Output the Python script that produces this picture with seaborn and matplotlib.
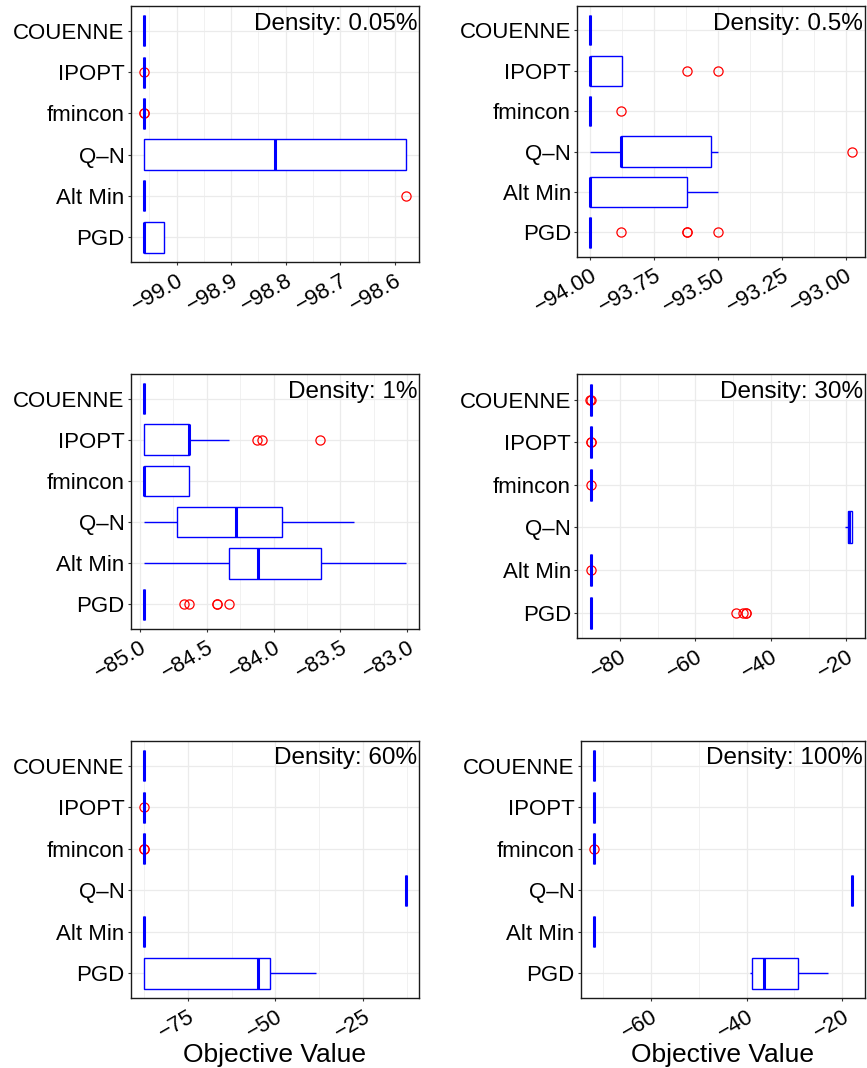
import matplotlib
matplotlib.use("Agg")
import matplotlib.pyplot as plt
from matplotlib.ticker import MultipleLocator
import pandas as pd
import seaborn as sns

# Solver order, top to bottom
methods = ["COUENNE", "IPOPT", "fmincon", "Q–N", "Alt Min", "PGD"]

# Objective values of the individual runs, one dict per matrix density
obj_d005 = {
    "COUENNE": [-99.06, -99.06, -99.06, -99.06, -99.06, -99.06, -99.06, -99.06, -99.06],
    "IPOPT":   [-99.06, -99.06, -99.06, -99.06, -99.06, -99.06, -99.06, -99.06, -99.0595],
    "fmincon": [-99.06, -99.06, -99.06, -99.06, -99.06, -99.06, -99.06, -99.0597, -99.0594],
    "Q–N":     [-99.06, -99.06, -99.06, -98.95, -98.82, -98.70, -98.58, -98.58, -98.58],
    "Alt Min": [-99.06, -99.06, -99.06, -99.06, -99.06, -99.06, -99.06, -99.06, -98.58],
    "PGD":     [-99.06, -99.06, -99.06, -99.06, -99.06, -99.04, -99.023, -99.023, -99.023],
}
obj_d05 = {
    "COUENNE": [-94.0, -94.0, -94.0, -94.0, -94.0, -94.0, -94.0, -94.0, -94.0],
    "IPOPT":   [-94.0, -94.0, -94.0, -94.0, -94.0, -93.95, -93.878, -93.622, -93.5],
    "fmincon": [-94.0, -94.0, -94.0, -94.0, -94.0, -94.0, -94.0, -94.0, -93.88],
    "Q–N":     [-94.0, -93.88, -93.88, -93.88, -93.88, -93.70, -93.528, -93.5, -92.975],
    "Alt Min": [-94.0, -94.0, -94.0, -94.0, -94.0, -93.80, -93.622, -93.55, -93.5],
    "PGD":     [-94.0, -94.0, -94.0, -94.0, -94.0, -94.0, -94.0, -94.0, -94.0,
                -94.0, -94.0, -94.0, -94.0, -93.88, -93.622, -93.622, -93.5],
}
obj_d1 = {
    "COUENNE": [-84.97, -84.97, -84.97, -84.97, -84.97, -84.97, -84.97, -84.97, -84.97],
    "IPOPT":   [-84.97, -84.97, -84.97, -84.97, -84.97, -84.85, -84.75, -84.68,
                -84.635, -84.635, -84.635, -84.635, -84.635, -84.33, -84.12, -84.085, -83.65],
    "fmincon": [-84.97, -84.97, -84.97, -84.97, -84.97, -84.80, -84.635, -84.635, -84.635],
    "Q–N":     [-84.97, -84.85, -84.72, -84.50, -84.278, -84.10, -83.94, -83.70, -83.40],
    "Alt Min": [-84.97, -84.60, -84.33, -84.20, -84.115, -83.90, -83.648, -83.30, -83.01],
    "PGD":     [-84.97, -84.97, -84.97, -84.97, -84.97, -84.97, -84.97, -84.97,
                -84.97, -84.97, -84.97, -84.97, -84.97, -84.97, -84.97, -84.97,
                -84.67, -84.63, -84.425, -84.425, -84.33],
}
obj_d30 = {
    "COUENNE": [-87.8, -87.8, -87.8, -87.8, -87.8, -87.8, -87.8, -87.85, -87.75],
    "IPOPT":   [-87.8, -87.8, -87.8, -87.8, -87.8, -87.8, -87.8, -87.75, -87.72],
    "fmincon": [-87.8, -87.8, -87.8, -87.8, -87.8, -87.8, -87.8, -87.8, -87.75],
    "Q–N":     [-20.4, -19.8, -19.5, -19.45, -19.4, -19.0, -18.5, -18.5, -18.5],
    "Alt Min": [-87.8, -87.8, -87.8, -87.8, -87.8, -87.8, -87.8, -87.8, -87.75],
    "PGD":     [-87.8, -87.8, -87.8, -87.8, -87.8, -87.8, -87.8, -87.8, -87.8,
                -87.8, -87.8, -87.8, -87.8, -49.2, -47.3, -46.7, -46.5],
}
obj_d60 = {
    "COUENNE": [-87.5, -87.5, -87.5, -87.5, -87.5, -87.5, -87.5, -87.5, -87.5],
    "IPOPT":   [-87.5, -87.5, -87.5, -87.5, -87.5, -87.5, -87.5, -87.5, -87.45],
    "fmincon": [-87.5, -87.5, -87.5, -87.5, -87.5, -87.5, -87.5, -87.45, -87.42],
    "Q–N":     [-12.85, -12.85, -12.85, -12.85, -12.85, -12.85, -12.85, -12.85, -12.85],
    "Alt Min": [-87.5, -87.5, -87.5, -87.5, -87.5, -87.5, -87.5, -87.5, -87.5],
    "PGD":     [-87.5, -87.5, -87.5, -70.0, -54.9, -53.0, -51.6, -45.0, -38.5],
}
obj_d100 = {
    "COUENNE": [-72.0, -72.0, -72.0, -72.0, -72.0, -72.0, -72.0, -72.0, -72.0],
    "IPOPT":   [-72.0, -72.0, -72.0, -72.0, -72.0, -72.0, -72.0, -72.0, -72.0],
    "fmincon": [-72.0, -72.0, -72.0, -72.0, -72.0, -72.0, -72.0, -72.0, -71.95],
    "Q–N":     [-17.95, -17.95, -17.95, -17.95, -17.95, -17.95, -17.95, -17.95, -17.95],
    "Alt Min": [-72.0, -72.0, -72.0, -72.0, -72.0, -72.0, -72.0, -72.0, -72.0],
    "PGD":     [-39.3, -39.1, -38.9, -37.5, -36.4, -33.0, -29.2, -26.0, -23.0],
}

panel_titles = ["Density: 0.05%", "Density: 0.5%", "Density: 1%",
                "Density: 30%", "Density: 60%", "Density: 100%"]
panel_ticks = [
    [-99.0, -98.9, -98.8, -98.7, -98.6],
    [-94.00, -93.75, -93.50, -93.25, -93.00],
    [-85.0, -84.5, -84.0, -83.5, -83.0],
    [-80, -60, -40, -20],
    [-75, -50, -25],
    [-60, -40, -20],
]
tick_decimals = [1, 2, 1, 0, 0, 0]
x_title = "Objective Value"

# Panel frames in pixels (left, top, right, bottom)
W, H = 867, 1068
frames = [
    (130.7, 6.0, 419.0, 262.0),
    (577.3, 6.0, 865.0, 256.7),
    (130.7, 374.0, 419.0, 629.0),
    (577.3, 374.0, 865.0, 638.3),
    (130.7, 740.7, 419.0, 998.3),
    (580.7, 740.7, 865.0, 998.3),
]

sns.set_theme(style="white")
plt.rcParams["font.family"] = ["Liberation Sans", "DejaVu Sans"]
plt.rcParams["axes.unicode_minus"] = True

fig = plt.figure(figsize=(W / 100, H / 100), dpi=100)
fig.patch.set_facecolor("white")

datasets = [obj_d005, obj_d05, obj_d1, obj_d30, obj_d60, obj_d100]

for i, data in enumerate(datasets):
    l, t, r, b = frames[i]
    ax = fig.add_axes([l / W, 1 - b / H, (r - l) / W, (b - t) / H])
    rows = [(m, v) for m in methods for v in data[m]]
    df = pd.DataFrame(rows, columns=["method", "value"])

    sns.boxplot(
        data=df, x="value", y="method", order=methods, orient="h",
        color="white", linecolor="#0000FF", linewidth=1.0, width=0.75,
        showcaps=False, whis=1.5, saturation=1,
        flierprops=dict(marker="o", markerfacecolor="none",
                        markeredgecolor="#FF0000", markersize=6.6,
                        markeredgewidth=0.9),
        medianprops=dict(linewidth=2.2),
        ax=ax,
    )

    ax.set_ylim(len(methods) - 0.4, -0.6)
    dec = tick_decimals[i]
    ticks = panel_ticks[i]
    labels = [f"{v:.{dec}f}".replace("-", "\u2212") for v in ticks]
    ax.set_xticks(ticks, labels=labels, rotation=30, ha="right",
                  rotation_mode="anchor", fontsize=16)
    ax.xaxis.set_minor_locator(MultipleLocator((ticks[1] - ticks[0]) / 2))

    ax.set_axisbelow(True)
    ax.grid(False)
    ax.xaxis.grid(True, which="major", color="#EBEBEB", linewidth=0.9)
    ax.xaxis.grid(True, which="minor", color="#EBEBEB", linewidth=0.5)
    ax.yaxis.grid(True, which="major", color="#EBEBEB", linewidth=0.9)

    for s in ax.spines.values():
        s.set_visible(True)
        s.set_color("#1A1A1A")
        s.set_linewidth(1.0)

    ax.tick_params(axis="both", which="major", length=2.5, width=0.8,
                   color="#333333", labelcolor="black", bottom=True, left=True)
    ax.tick_params(axis="y", which="major", labelsize=16, pad=2)
    ax.tick_params(axis="x", which="major", pad=3.5)
    ax.tick_params(axis="x", which="minor", length=0)

    ax.set_xlabel("")
    ax.set_ylabel("")
    ax.annotate(panel_titles[i], xy=(1, 1), xycoords="axes fraction",
                xytext=(-1.3, -17.0), textcoords="offset points",
                ha="right", va="baseline", fontsize=17.5, color="black")

    if i >= 4:
        ax.text(0.5, -(1061.7 - b) / (b - t), x_title, transform=ax.transAxes,
                ha="center", va="baseline", fontsize=19, color="black")

fig.savefig("out.png", dpi=100, facecolor="white")
